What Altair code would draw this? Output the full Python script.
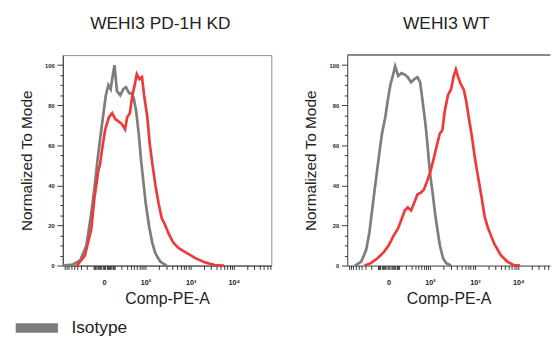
import altair as alt
import numpy as np
import pandas as pd

FONT = "Liberation Sans"
RED = "#ee3a3a"
GRAY = "#7d7d7d"

# ---- data (x in display units of the biexponential axis, y = % of mode) ----
kd_iso_x = [-2.15, -1.65, -1.25, -0.92, -0.67, -0.5, -0.34, -0.17, -0.04, 0.09, 0.22, 0.34, 0.42,
            0.54, 0.67, 0.84, 1.0, 1.14, 1.3, 1.42, 1.54, 1.67, 1.8, 1.92, 2.04, 2.17, 2.34, 2.5,
            2.67, 2.92, 3.25]
kd_iso_y = [0, 0.5, 2.5, 10, 26, 38.7, 53, 66, 75.5, 85, 90, 88, 93,
            100, 87, 85, 88, 89, 86, 86, 83.5, 77, 66, 53, 42, 30.7, 19.6, 11.6,
            6, 2, 0]

kd_pe_x = [-1.42, -1.0, -0.67, -0.5, -0.29, -0.22, -0.09, 0.05, 0.12, 0.25, 0.42, 0.59, 0.75,
           0.92, 1.09, 1.2, 1.34, 1.47, 1.59, 1.7, 1.84, 1.97, 2.08, 2.25, 2.37, 2.5, 2.67,
           2.84, 3.0, 3.17, 3.34, 3.59, 3.84, 4.09, 4.75, 5.25, 5.75, 6.25]
kd_pe_y = [0, 5, 18, 34, 48, 50, 59, 67.5, 70, 74, 76, 73, 72,
           70.6, 68, 74, 76, 85, 90, 95.5, 93, 94, 85, 74, 61, 51.5, 40,
           30.7, 23.6, 20.4, 16.3, 11.6, 9, 7.5, 3.7, 1.6, 0.3, 0]

wt_iso_x = [-1.75, -1.42, -1.17, -1.0, -0.84, -0.67, -0.5, -0.34, -0.17, -0.05, 0.09, 0.22, 0.34,
            0.5, 0.67, 0.84, 1.0, 1.17, 1.34, 1.5, 1.64, 1.75, 1.92, 2.0, 2.09, 2.17, 2.3, 2.42,
            2.54, 2.67, 2.84, 3.0, 3.25]
wt_iso_y = [0, 2, 7.7, 16.4, 29, 42, 54.7, 66, 74, 82, 90, 94.6, 99.4,
            94.6, 96, 95.3, 94, 91.5, 93, 94, 91.5, 83.5, 70.6, 62.7, 53, 45, 35.5, 26,
            18, 10, 3.5, 1.2, 0]

wt_pe_x = [-1.25, -0.92, -0.59, -0.25, 0.0, 0.25, 0.5, 0.72, 0.84, 1.0, 1.17, 1.34, 1.5, 1.67,
           1.84, 2.0, 2.17, 2.34, 2.5, 2.67, 2.8, 2.92, 3.09, 3.25, 3.39, 3.5, 3.62, 3.75, 3.92,
           4.04, 4.17, 4.34, 4.5, 4.67, 4.84, 5.0, 5.17, 5.5, 5.84, 6.17, 6.5, 6.84]
wt_pe_y = [0, 1.2, 3.5, 6.7, 10, 14.7, 18.7, 24.3, 27.5, 29, 27.5, 31.5, 35.5, 36.3,
           38, 42, 46.7, 53, 59.5, 66, 67.5, 77, 85, 88, 94.6, 97.8, 94, 90.7, 87.5,
           82, 74, 64, 53, 43.5, 34, 24.3, 18.8, 10.8, 5.2, 2, 0.3, 0]

major_pos = [0.0, 2.15, 4.5, 6.75]
major_lab = ["0", "10²", "10³", "10⁴"]

panel_titles = ["WEHI3 PD-1H KD", "WEHI3 WT"]
x_title = "Comp-PE-A"
y_title = "Normalized To Mode"
legend_label = "Isotype"

Y_MAX = 105
X_MIN = -2.15


def minor_ticks(xmax):
    vals = []
    scale = major_pos[1] / np.log1p(100 / 13.2)
    for d in (1, 10):
        for m in range(1, 10):
            p = round(float(scale * np.log1p(m * d / 13.2)), 4)
            vals += [p, -p]
    edges = major_pos + [major_pos[-1] + 2.25]
    for a, b in zip(edges[1:-1], edges[2:]):
        for m in range(2, 10):
            vals.append(round(float(a + np.log10(m) * (b - a)), 4))
    return sorted(float(v) for v in vals if X_MIN < v < xmax and v not in major_pos)


def near(p):
    return f"abs(datum.value - {p}) < 0.001"


lab_expr = " : ".join(f"{near(p)} ? '{l}'" for p, l in zip(major_pos, major_lab)) + " : ''"


def panel(title, iso_x, iso_y, pe_x, pe_y, width, xmax, dx, framed):
    iso = pd.DataFrame({"x": iso_x, "y": iso_y, "series": legend_label})
    pe = pd.DataFrame({"x": pe_x, "y": pe_y, "series": "PE"})
    xs = alt.Scale(domain=[X_MIN, xmax], nice=False, zero=False)
    ys = alt.Scale(domain=[0, Y_MAX], nice=False)
    x_axis = alt.Axis(
        values=sorted(major_pos + minor_ticks(xmax)),
        labelExpr=lab_expr,
        title=x_title,
        grid=False,
        labelOverlap=False,
        labelFontSize=7.5,
        labelFontWeight="bold",
        labelPadding=10,
        tickSize=4,
        titleFontSize=16.5,
        titleFontWeight="normal",
        titlePadding=5,
    )
    y_axis = alt.Axis(
        values=list(range(0, 101, 5)),
        labelExpr="datum.value % 20 === 0 ? datum.label : ''",
        title=y_title,
        grid=False,
        labelOverlap=False,
        labelFontSize=6,
        labelFontWeight="bold",
        labelPadding=3,
        tickSize={"condition": {"test": "datum.value % 20 === 0", "value": 6}, "value": 3},
        titleFontSize=16,
        titleFontWeight="normal",
        titlePadding=11,
    )
    legend = alt.Legend(
        title=None, orient="none", legendX=-54, legendY=257,
        symbolType="stroke", symbolSize=1936, symbolStrokeWidth=10,
        labelFontSize=18, labelFont=FONT, labelColor="#222", labelOffset=9,
    )
    iso_line = alt.Chart(iso).mark_line(strokeWidth=2.8).encode(
        x=alt.X("x:Q", scale=xs, axis=x_axis),
        y=alt.Y("y:Q", scale=ys, axis=y_axis),
        color=alt.Color("series:N", scale=alt.Scale(domain=[legend_label], range=[GRAY]),
                        legend=legend),
    )
    pe_line = alt.Chart(pe).mark_line(strokeWidth=2.8, color=RED).encode(
        x=alt.X("x:Q", scale=xs, axis=x_axis),
        y=alt.Y("y:Q", scale=ys, axis=y_axis),
    )
    layers = [iso_line, pe_line]
    if not framed:
        top = alt.Chart(iso).mark_rule(color="#8a8a8a", strokeWidth=1).encode(
            x=alt.XDatum(X_MIN, scale=xs, axis=x_axis),
            x2=alt.X2Datum(xmax),
            y=alt.YDatum(Y_MAX, scale=ys, axis=y_axis),
        )
        layers.append(top)
    ch = alt.layer(*layers).properties(
        width=width, height=219,
        title=alt.TitleParams(text=title, dx=dx),
    )
    if not framed:
        ch = ch.properties(view=alt.ViewBackground(stroke="transparent"))
    return ch


left = panel(panel_titles[0], kd_iso_x, kd_iso_y, kd_pe_x, kd_pe_y, 217, 8.7, -7, True)
right = panel(panel_titles[1], wt_iso_x, wt_iso_y, wt_pe_x, wt_pe_y, 211, 8.4, -2.5, False)

chart = alt.hconcat(left, right, spacing=31).properties(
    padding={"left": 3, "top": 0, "right": 0, "bottom": 0}
).configure_view(stroke="#8a8a8a", strokeWidth=1).configure_axis(
    labelFont=FONT, titleFont=FONT, domainColor="#333", tickColor="#333",
    labelColor="#222", titleColor="#222",
).configure_title(
    font=FONT, fontSize=18, fontWeight="normal", color="#222", anchor="middle", offset=23
)

chart.save("out.html", embed_options={"renderer": "svg", "actions": False})
